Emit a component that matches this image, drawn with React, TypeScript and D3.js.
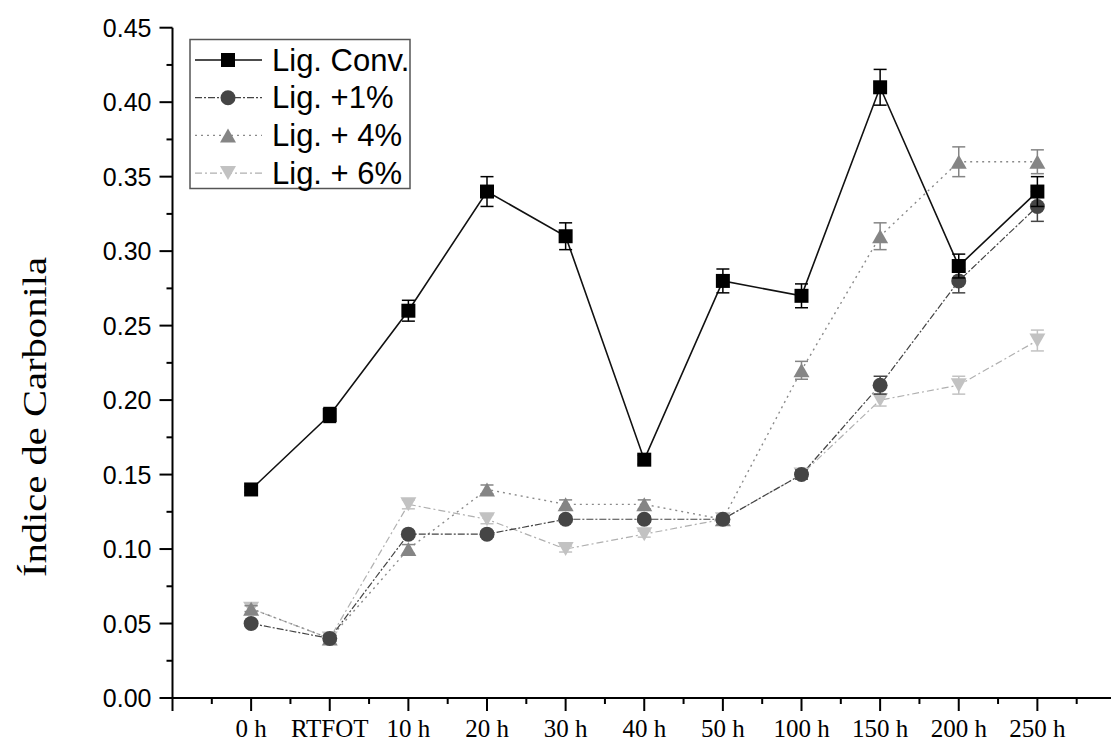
import React, { useRef, useEffect } from "react";
import * as d3 from "d3";

const categories = ["0 h", "RTFOT", "10 h", "20 h", "30 h", "40 h", "50 h", "100 h", "150 h", "200 h", "250 h"];

const convValues = [0.14, 0.19, 0.26, 0.34, 0.31, 0.16, 0.28, 0.27, 0.41, 0.29, 0.34];
const convErrors = [0.002, 0.005, 0.007, 0.01, 0.009, 0.003, 0.008, 0.008, 0.012, 0.008, 0.01];

const lig1Values = [0.05, 0.04, 0.11, 0.11, 0.12, 0.12, 0.12, 0.15, 0.21, 0.28, 0.33];
const lig1Errors = [0.002, 0.002, 0.002, 0.002, 0.002, 0.002, 0.002, 0.003, 0.006, 0.008, 0.01];

const lig4Values = [0.06, 0.04, 0.1, 0.14, 0.13, 0.13, 0.12, 0.22, 0.31, 0.36, 0.36];
const lig4Errors = [0.002, 0.002, 0.003, 0.003, 0.003, 0.003, 0.002, 0.006, 0.009, 0.01, 0.008];

const lig6Values = [0.06, 0.04, 0.13, 0.12, 0.1, 0.11, 0.12, 0.15, 0.2, 0.21, 0.24];
const lig6Errors = [0.002, 0.002, 0.003, 0.003, 0.002, 0.002, 0.002, 0.003, 0.004, 0.006, 0.007];

const seriesNames = ["Lig. Conv.", "Lig. +1%", "Lig. + 4%", "Lig. + 6%"];

const yTickValues = [0, 0.05, 0.1, 0.15, 0.2, 0.25, 0.3, 0.35, 0.4, 0.45];

// marker shapes, centred on the point
const markerPath = (shape: string) => {
  if (shape === "square") return "M-7,-7H7V7H-7Z";
  if (shape === "up") return "M0,-7L8,7L-8,7Z";
  if (shape === "down") return "M0,7L8,-7L-8,-7Z";
  return d3.arc()({ innerRadius: 0, outerRadius: 7.5, startAngle: 0, endAngle: 2 * Math.PI } as any) as string;
};

const series = [
  { name: seriesNames[3], values: lig6Values, errors: lig6Errors, shape: "down", color: "#c2c2c2", line: "#b0b0b0", dash: "7,3,2,3", width: 1.2 },
  { name: seriesNames[2], values: lig4Values, errors: lig4Errors, shape: "up", color: "#858585", line: "#8a8a8a", dash: "2,4", width: 1.4 },
  { name: seriesNames[1], values: lig1Values, errors: lig1Errors, shape: "circle", color: "#454545", line: "#444", dash: "7,2,2,2", width: 1.2 },
  { name: seriesNames[0], values: convValues, errors: convErrors, shape: "square", color: "#000", line: "#111", dash: null, width: 1.6 },
];

const App = () => {
  const ref: any = useRef();

  useEffect(() => {
    const svg = d3.select(ref.current);
    svg.selectAll("*").remove();

    const xScale = d3.scaleLinear().domain([-1, 11]).range([172.5, 1116]);
    const yScale = d3.scaleLinear().domain([0, 0.45]).range([698, 27.7]);

    // y axis
    const yAxis = svg.append("g").attr("transform", "translate(172.5,0)");
    yAxis
      .append("line")
      .attr("y1", yScale(0) + 1)
      .attr("y2", yScale(0.45))
      .attr("stroke", "#000")
      .attr("stroke-width", 2);
    yAxis
      .selectAll(".major")
      .data(yTickValues)
      .enter()
      .append("line")
      .attr("x1", -13)
      .attr("x2", 0)
      .attr("y1", (d: any) => yScale(d))
      .attr("y2", (d: any) => yScale(d))
      .attr("stroke", "#000")
      .attr("stroke-width", 2);
    yAxis
      .selectAll(".minor")
      .data(yTickValues.slice(0, -1))
      .enter()
      .append("line")
      .attr("x1", -6)
      .attr("x2", 0)
      .attr("y1", (d: any) => yScale(d + 0.025))
      .attr("y2", (d: any) => yScale(d + 0.025))
      .attr("stroke", "#000")
      .attr("stroke-width", 2);
    yAxis
      .selectAll(".label")
      .data(yTickValues)
      .enter()
      .append("text")
      .attr("x", -21)
      .attr("y", (d: any) => yScale(d))
      .attr("dy", "0.36em")
      .attr("text-anchor", "end")
      .attr("font-family", "'Liberation Sans', Arial, sans-serif")
      .attr("font-size", 25)
      .text((d: any) => d3.format(".2f")(d));

    // x axis
    const xAxis = svg.append("g").attr("transform", "translate(0,698)");
    xAxis
      .append("line")
      .attr("x1", 171.5)
      .attr("x2", 1111)
      .attr("stroke", "#000")
      .attr("stroke-width", 2);
    const xMajor = d3.range(-1, 12);
    xAxis
      .selectAll(".major")
      .data(xMajor)
      .enter()
      .append("line")
      .attr("x1", (d: any) => xScale(d))
      .attr("x2", (d: any) => xScale(d))
      .attr("y1", 0)
      .attr("y2", 13)
      .attr("stroke", "#000")
      .attr("stroke-width", 2);
    xAxis
      .selectAll(".minor")
      .data(xMajor)
      .enter()
      .append("line")
      .attr("x1", (d: any) => xScale(d + 0.5))
      .attr("x2", (d: any) => xScale(d + 0.5))
      .attr("y1", 0)
      .attr("y2", 6)
      .attr("stroke", "#000")
      .attr("stroke-width", 2);
    xAxis
      .selectAll(".label")
      .data(categories)
      .enter()
      .append("text")
      .attr("x", (d: any, i: number) => xScale(i))
      .attr("y", 39)
      .attr("text-anchor", "middle")
      .attr("font-family", "'Liberation Serif', 'Times New Roman', serif")
      .attr("font-size", 25)
      .text((d: any) => d);

    // y axis title
    svg
      .append("text")
      .attr("transform", "translate(46,417) rotate(-90)")
      .attr("text-anchor", "middle")
      .attr("font-family", "'Liberation Serif', 'Times New Roman', serif")
      .attr("font-size", 34)
      .attr("textLength", 320)
      .attr("lengthAdjust", "spacingAndGlyphs")
      .text("Índice de Carbonila");

    // lines
    const line = d3
      .line<number>()
      .x((d, i) => xScale(i))
      .y((d) => yScale(d));

    series.forEach((s) => {
      svg
        .append("path")
        .attr("d", line(s.values) as string)
        .attr("fill", "none")
        .attr("stroke", s.line)
        .attr("stroke-width", s.width)
        .attr("stroke-dasharray", s.dash as any);
    });

    // error bars + markers
    series.forEach((s) => {
      const g = svg.append("g");
      const pts = s.values.map((v, i) => ({ i, v, e: s.errors[i] }));
      const eb = g
        .selectAll(".err")
        .data(pts)
        .enter()
        .append("g")
        .attr("stroke", s.color)
        .attr("stroke-width", 1.5);
      eb.append("line")
        .attr("x1", (d: any) => xScale(d.i))
        .attr("x2", (d: any) => xScale(d.i))
        .attr("y1", (d: any) => yScale(d.v - d.e))
        .attr("y2", (d: any) => yScale(d.v + d.e));
      [-1, 1].forEach((sign) => {
        eb.append("line")
          .attr("x1", (d: any) => xScale(d.i) - 6.5)
          .attr("x2", (d: any) => xScale(d.i) + 6.5)
          .attr("y1", (d: any) => yScale(d.v + sign * d.e))
          .attr("y2", (d: any) => yScale(d.v + sign * d.e));
      });
      g.selectAll(".mark")
        .data(pts)
        .enter()
        .append("path")
        .attr("d", markerPath(s.shape))
        .attr("transform", (d: any) => `translate(${xScale(d.i)},${yScale(d.v)})`)
        .attr("fill", s.color);
    });

    // legend
    const legend = svg.append("g");
    legend
      .append("rect")
      .attr("x", 190)
      .attr("y", 39.5)
      .attr("width", 220)
      .attr("height", 149)
      .attr("fill", "#fff")
      .attr("stroke", "#555")
      .attr("stroke-width", 1.5);
    const legendOrder = [...series].reverse();
    legendOrder.forEach((s, k) => {
      const cy = 60 + k * 37.7;
      legend
        .append("line")
        .attr("x1", 195)
        .attr("x2", 262)
        .attr("y1", cy)
        .attr("y2", cy)
        .attr("stroke", s.line)
        .attr("stroke-width", s.width)
        .attr("stroke-dasharray", s.dash as any);
      legend
        .append("path")
        .attr("d", markerPath(s.shape))
        .attr("transform", `translate(228,${cy})`)
        .attr("fill", s.color);
      legend
        .append("text")
        .attr("x", 272)
        .attr("y", cy + 10.5)
        .attr("font-family", "'Liberation Sans', Arial, sans-serif")
        .attr("font-size", 31)
        .text(s.name);
    });
  }, []);

  return (
    <svg
      ref={ref}
      width={1111}
      height={742}
      style={{ position: "absolute", left: 0, top: 0, background: "#fff" }}
    ></svg>
  );
};

export default App;
